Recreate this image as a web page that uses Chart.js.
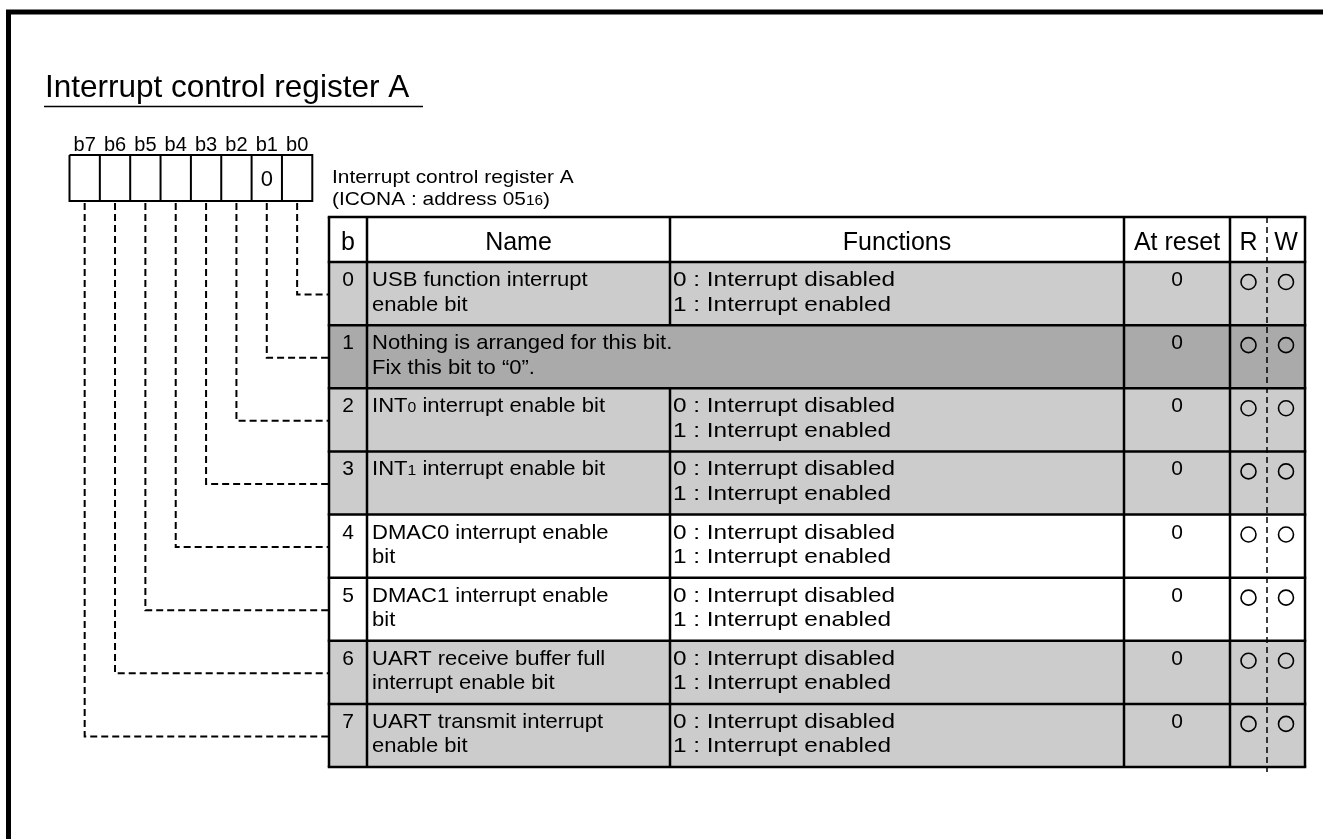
<!DOCTYPE html>
<html>
<head>
<meta charset="utf-8">
<script src="https://cdn.jsdelivr.net/npm/chart.js@4.4.0/dist/chart.umd.min.js"></script>
<style>
html,body{margin:0;padding:0;background:#fff;overflow:hidden}
canvas{display:block}
</style>
</head>
<body>
<canvas id="c" width="1323" height="839"></canvas>
<script>
// ---------------- DATA ----------------
const TITLE = 'Interrupt control register A';
const REG_LINES = ['Interrupt control register A', '(ICONA : address 05_{16})'];
const headers = ['b', 'Name', 'Functions', 'At reset', 'R', 'W'];
const bits = [0, 1, 2, 3, 4, 5, 6, 7];
const bitFixed = ['', '0', '', '', '', '', '', ''];   // indexed by bit number
const names = [
  ['USB function interrupt', 'enable bit'],
  ['Nothing is arranged for this bit.', 'Fix this bit to \u201C0\u201D.'],
  ['INT_{0} interrupt enable bit'],
  ['INT_{1} interrupt enable bit'],
  ['DMAC0 interrupt enable', 'bit'],
  ['DMAC1 interrupt enable', 'bit'],
  ['UART receive buffer full', 'interrupt enable bit'],
  ['UART transmit interrupt', 'enable bit']
];
const functions = [
  ['0 : Interrupt disabled', '1 : Interrupt enabled'],
  null,
  ['0 : Interrupt disabled', '1 : Interrupt enabled'],
  ['0 : Interrupt disabled', '1 : Interrupt enabled'],
  ['0 : Interrupt disabled', '1 : Interrupt enabled'],
  ['0 : Interrupt disabled', '1 : Interrupt enabled'],
  ['0 : Interrupt disabled', '1 : Interrupt enabled'],
  ['0 : Interrupt disabled', '1 : Interrupt enabled']
];
const resetValues = ['0', '0', '0', '0', '0', '0', '0', '0'];
const readable = [true, true, true, true, true, true, true, true];
const writable = [true, true, true, true, true, true, true, true];

// ---------------- STYLE / LAYOUT ----------------
const ROW_FILL = ['#cccccc', '#aaaaaa', '#cccccc', '#cccccc', '#ffffff', '#ffffff', '#cccccc', '#cccccc'];
const FONT = '"Liberation Sans", Arial, Helvetica, sans-serif';
const L = {
  W: 1323, H: 839,
  cols: [329, 367, 670, 1124, 1230, 1267, 1305],
  tableTop: 217, headBottom: 262, rowH: 63.125,
  reg: { left: 69.5, top: 155, bottom: 201, cell: 30.35 },
  lineW: 2.5
};
const rowTop = i => L.headBottom + i * L.rowH;
const rowMid = i => rowTop(i) + L.rowH / 2;
const tableBottom = rowTop(bits.length);
const regCellCenter = bit => L.reg.left + (7 - bit + 0.5) * L.reg.cell;

// ---------------- DATASETS ----------------
const datasets = [];
function rect(x0, y0, x1, y1, color) {
  datasets.push({ data: [{ x: x0, y: y0 }, { x: x1, y: y0 }], fill: { value: y1 },
    backgroundColor: color, borderWidth: 0, pointRadius: 0, order: 10 });
}
function path(pts, width, dash, order) {
  datasets.push({ data: pts.map(p => ({ x: p[0], y: p[1] })), fill: false,
    borderColor: '#000', borderWidth: width, borderDash: dash || [], pointRadius: 0,
    borderCapStyle: 'butt', borderJoinStyle: 'miter', tension: 0, order: order == null ? 2 : order });
}

// row fills
bits.forEach(i => rect(L.cols[0], rowTop(i), L.cols[6], rowTop(i + 1), ROW_FILL[i]));

// outer frame + title underline
path([[8.5, 839], [8.5, 12], [1323, 12]], 5);
path([[44, 106.5], [423, 106.5]], 1.5);

// register boxes
const regRight = L.reg.left + 8 * L.reg.cell;
path([[L.reg.left, L.reg.top], [regRight, L.reg.top], [regRight, L.reg.bottom], [L.reg.left, L.reg.bottom], [L.reg.left, L.reg.top]], 2);
for (let k = 1; k < 8; k++) {
  const x = L.reg.left + k * L.reg.cell;
  path([[x, L.reg.top], [x, L.reg.bottom]], 2);
}

// connectors (dashed)
bits.forEach(i => {
  const cx = regCellCenter(i), y = rowMid(i) + 1;
  path([[cx, L.reg.bottom + 2], [cx, y], [L.cols[0], y]], 2, [7, 4], 3);
});

// table horizontal lines
[L.tableTop, L.headBottom].concat(bits.map(i => rowTop(i + 1))).forEach(y => {
  path([[L.cols[0] - 1.25, y], [L.cols[6] + 1.25, y]], L.lineW);
});
// table vertical lines
[0, 1, 3, 4, 6].forEach(c => path([[L.cols[c], L.tableTop], [L.cols[c], tableBottom]], L.lineW));
// Name | Functions separator, skipped on merged rows
path([[L.cols[2], L.tableTop], [L.cols[2], L.headBottom]], L.lineW);
bits.forEach(i => { if (functions[i]) path([[L.cols[2], rowTop(i)], [L.cols[2], rowTop(i + 1)]], L.lineW); });
// R | W dashed separator
path([[L.cols[5], L.tableTop], [L.cols[5], tableBottom + 5]], 1.5, [6, 4], 1);

// R/W circles
const rX = (L.cols[4] + L.cols[5]) / 2, wX = (L.cols[5] + L.cols[6]) / 2;
const circlePts = [];
bits.forEach(i => {
  if (readable[i]) circlePts.push({ x: rX, y: rowTop(i) + 20 });
  if (writable[i]) circlePts.push({ x: wX, y: rowTop(i) + 20 });
});
datasets.push({ data: circlePts, showLine: false, pointRadius: 7.5, pointHoverRadius: 7.5,
  pointBorderWidth: 1.6, pointBorderColor: '#000', pointBackgroundColor: 'rgba(0,0,0,0)',
  pointStyle: 'circle', order: 0 });

// ---------------- TEXT PLUGIN ----------------
function parseRich(s) {
  const out = []; const re = /_\{([^}]*)\}/g; let last = 0, m;
  while ((m = re.exec(s))) {
    if (m.index > last) out.push({ t: s.slice(last, m.index), sub: false });
    out.push({ t: m[1], sub: true }); last = re.lastIndex;
  }
  if (last < s.length) out.push({ t: s.slice(last), sub: false });
  return out;
}
function drawRich(ctx, s, x, y, size, align, stretch) {
  const k = stretch || 1;
  const segs = parseRich(s);
  const fontOf = sub => `${sub ? Math.round(size * 0.72) : size}px ${FONT}`;
  let total = 0;
  segs.forEach(g => { ctx.font = fontOf(g.sub); g.w = ctx.measureText(g.t).width; total += g.w; });
  const w = total * k;
  const x0 = align === 'center' ? x - w / 2 : (align === 'right' ? x - w : x);
  ctx.save();
  ctx.translate(x0, y);
  ctx.scale(k, 1);
  ctx.textAlign = 'left'; ctx.textBaseline = 'alphabetic';
  let cx = 0;
  segs.forEach(g => { ctx.font = fontOf(g.sub); ctx.fillText(g.t, cx, 0); cx += g.w; });
  ctx.restore();
}

const textPlugin = {
  id: 'registerText',
  afterDatasetsDraw(chart) {
    const ctx = chart.ctx, sx = chart.scales.x, sy = chart.scales.y;
    const X = v => sx.getPixelForValue(v), Y = v => sy.getPixelForValue(v);
    ctx.save();
    ctx.fillStyle = '#000';
    drawRich(ctx, TITLE, X(45), Y(96.5), 31.5, 'left');
    bits.forEach(b => {
      drawRich(ctx, 'b' + b, X(regCellCenter(b)), Y(150.5), 20, 'center');
      if (bitFixed[b]) drawRich(ctx, bitFixed[b], X(regCellCenter(b)), Y(186), 22, 'center');
    });
    REG_LINES.forEach((s, k) => drawRich(ctx, s, X(332), Y(182.5 + k * 22.5), 19, 'left', 1.1));
    headers.forEach((h, c) => drawRich(ctx, h, X((L.cols[c] + L.cols[c + 1]) / 2), Y(250), 25, 'center'));
    bits.forEach(i => {
      const t = rowTop(i);
      drawRich(ctx, String(i), X((L.cols[0] + L.cols[1]) / 2), Y(t + 24), 21, 'center');
      names[i].forEach((s, k) => drawRich(ctx, s, X(L.cols[1] + 5), Y(t + 24 + k * 24.5), 21, 'left', 1.05));
      if (functions[i]) functions[i].forEach((s, k) => drawRich(ctx, s, X(L.cols[2] + 3), Y(t + 24 + k * 24.5), 21, 'left', 1.16));
      drawRich(ctx, resetValues[i], X((L.cols[3] + L.cols[4]) / 2), Y(t + 24), 21, 'center');
    });
    ctx.restore();
  }
};

new Chart(document.getElementById('c'), {
  type: 'line',
  data: { datasets },
  options: {
    responsive: false, animation: false, devicePixelRatio: 1, events: [],
    layout: { padding: 0, autoPadding: false },
    plugins: { legend: { display: false }, tooltip: { enabled: false }, title: { display: false } },
    scales: {
      x: { type: 'linear', min: 0, max: L.W, display: false },
      y: { type: 'linear', min: 0, max: L.H, reverse: true, display: false }
    }
  },
  plugins: [textPlugin]
});
</script>
</body>
</html>
